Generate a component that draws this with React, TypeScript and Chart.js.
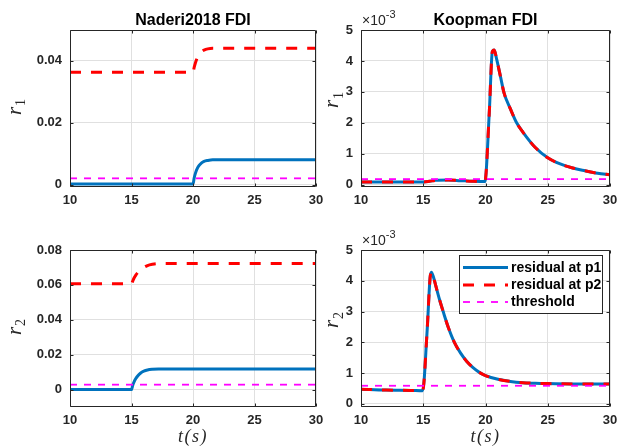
import React, { useEffect, useRef } from 'react';
import { Chart, registerables } from 'chart.js';

Chart.register(...registerables);

const FIG_W = 617;
const FIG_H = 446;
const AXIS_COLOR = '#262626';
const GRID_COLOR = '#e0e0e0';
const BLUE = '#0072BD';
const RED = '#FF0000';
const MAGENTA = '#FF00FF';
const SANS = '"Liberation Sans", Arial, Helvetica, sans-serif';
const SERIF = '"Liberation Serif", "Times New Roman", serif';

// ---------- shared ----------
const seriesLabels = ['residual at p1', 'residual at p2', 'threshold'];
const timeTicks = [10, 15, 20, 25, 30];
const timeTickLabels = ['10', '15', '20', '25', '30'];
const thresholdTime = [10, 30];

// ---------- Naderi2018 FDI, r1 ----------
const naderiR1Time = [10, 20, 20.1, 20.2, 20.35, 20.5, 20.7, 20.9, 21.2, 21.6, 22, 30];
const naderiR1P1 = [0.0002, 0.0002, 0.0022, 0.0037, 0.0052, 0.0062, 0.007, 0.0075, 0.0078, 0.008, 0.008, 0.008];
const naderiR1P2 = [0.0363, 0.0363, 0.038, 0.0394, 0.041, 0.042, 0.043, 0.0435, 0.0439, 0.0441, 0.0441, 0.0441];
const naderiR1Threshold = [0.002, 0.002];
const naderiR1Ticks = [0, 0.02, 0.04];
const naderiR1TickLabels = ['0', '0.02', '0.04'];

// ---------- Naderi2018 FDI, r2 ----------
const naderiR2Time = [10, 15, 15.1, 15.2, 15.35, 15.5, 15.75, 16, 16.3, 16.7, 17.2, 30];
const naderiR2P1 = [0, 0, 0.0025, 0.0043, 0.0063, 0.0078, 0.0095, 0.0105, 0.0112, 0.0116, 0.0118, 0.0118];
const naderiR2P2 = [0.0606, 0.0606, 0.0622, 0.0638, 0.0656, 0.067, 0.0688, 0.07, 0.0711, 0.0718, 0.0722, 0.0723];
const naderiR2Threshold = [0.0028, 0.0028];
const naderiR2Ticks = [0, 0.02, 0.04, 0.06, 0.08];
const naderiR2TickLabels = ['0', '0.02', '0.04', '0.06', '0.08'];

// ---------- Koopman FDI, r1 (x 10^-3) ----------
const koopmanR1Time = [10, 12, 14, 15, 15.5, 16, 17, 18, 19, 19.95, 20.3, 20.55, 20.7, 20.9, 21.2, 21.5, 22, 22.5, 23, 24, 25, 26, 27, 28, 29, 30];
const koopmanR1P1 = [0.09, 0.09, 0.09, 0.09, 0.11, 0.14, 0.15, 0.13, 0.11, 0.1, 2.3, 4.3, 4.35, 4.05, 3.5, 2.95, 2.45, 2.0, 1.7, 1.2, 0.87, 0.67, 0.54, 0.45, 0.37, 0.32];
const koopmanR1P2 = [0.09, 0.09, 0.09, 0.09, 0.11, 0.14, 0.15, 0.13, 0.11, 0.1, 2.3, 4.3, 4.35, 4.05, 3.5, 2.95, 2.45, 2.0, 1.7, 1.2, 0.87, 0.67, 0.54, 0.45, 0.37, 0.32];
const koopmanR1Threshold = [0.18, 0.18];

// ---------- Koopman FDI, r2 (x 10^-3) ----------
const koopmanR2Time = [10, 12, 14, 14.95, 15.3, 15.55, 15.65, 15.8, 16, 16.3, 16.6, 17, 17.5, 18, 18.5, 19, 19.6, 20, 21, 22, 23, 24, 25, 27, 30];
const koopmanR2P1 = [0.48, 0.45, 0.44, 0.43, 2.3, 4.1, 4.28, 4.15, 3.85, 3.4, 3.0, 2.5, 2.0, 1.65, 1.38, 1.18, 1.0, 0.92, 0.8, 0.73, 0.69, 0.67, 0.66, 0.65, 0.65];
const koopmanR2P2 = [0.48, 0.45, 0.44, 0.43, 2.3, 4.1, 4.28, 4.15, 3.85, 3.4, 3.0, 2.5, 2.0, 1.65, 1.38, 1.18, 1.0, 0.92, 0.8, 0.73, 0.69, 0.67, 0.66, 0.65, 0.65];
const koopmanR2Threshold = [0.59, 0.59];

const koopmanTicks = [0, 1, 2, 3, 4, 5];
const koopmanTickLabels = ['0', '1', '2', '3', '4', '5'];

type Area = { l: number; r: number; t: number; b: number };
type Panel = {
  key: string;
  area: Area;
  yMin: number;
  yMax: number;
  yTicks: number[];
  yTickLabels: string[];
  time: number[];
  p1: number[];
  p2: number[];
  thr: number[];
  title?: string;
  exponent?: boolean;
  ySub: string;
  yLabelX: number;
  yLabelY: number;
  xLabel?: boolean;
  legend?: boolean;
};

const panels: Panel[] = [
  {
    key: 'tl', area: { l: 70, r: 316, t: 30, b: 187 }, yMin: -0.0008, yMax: 0.05,
    yTicks: naderiR1Ticks, yTickLabels: naderiR1TickLabels,
    time: naderiR1Time, p1: naderiR1P1, p2: naderiR1P2, thr: naderiR1Threshold,
    title: 'Naderi2018 FDI', ySub: '1', yLabelX: 20.5, yLabelY: 107,
  },
  {
    key: 'tr', area: { l: 361, r: 610, t: 30, b: 187 }, yMin: -0.075, yMax: 5,
    yTicks: koopmanTicks, yTickLabels: koopmanTickLabels,
    time: koopmanR1Time, p1: koopmanR1P1, p2: koopmanR1P2, thr: koopmanR1Threshold,
    title: 'Koopman FDI', exponent: true, ySub: '1', yLabelX: 338, yLabelY: 100,
  },
  {
    key: 'bl', area: { l: 70, r: 316, t: 250, b: 407 }, yMin: -0.01, yMax: 0.08,
    yTicks: naderiR2Ticks, yTickLabels: naderiR2TickLabels,
    time: naderiR2Time, p1: naderiR2P1, p2: naderiR2P2, thr: naderiR2Threshold,
    ySub: '2', yLabelX: 20.5, yLabelY: 327, xLabel: true,
  },
  {
    key: 'br', area: { l: 361, r: 610, t: 250, b: 407 }, yMin: -0.1, yMax: 5,
    yTicks: koopmanTicks, yTickLabels: koopmanTickLabels,
    time: koopmanR2Time, p1: koopmanR2P1, p2: koopmanR2P2, thr: koopmanR2Threshold,
    exponent: true, ySub: '2', yLabelX: 338, yLabelY: 320, xLabel: true, legend: true,
  },
];

const Y_W = 60;
const X_H = 30;

function makePlugin(panel: Panel) {
  return {
    id: 'matlab_' + panel.key,
    afterDatasetsDraw(chart: any) {
      const { ctx, chartArea, scales } = chart;
      const { left, right, top, bottom } = chartArea;
      const xs = scales.x;
      const ys = scales.y;
      ctx.save();
      ctx.strokeStyle = AXIS_COLOR;
      ctx.lineWidth = 1;
      ctx.setLineDash([]);
      const L = Math.round(left) + 0.5;
      const R = Math.round(right) - 0.5;
      const T = Math.round(top) + 0.5;
      const B = Math.round(bottom) - 0.5;
      ctx.beginPath();
      ctx.rect(L, T, R - L, B - T);
      const tl = 3;
      timeTicks.forEach((v) => {
        const px = Math.round(xs.getPixelForValue(v)) + 0.5;
        ctx.moveTo(px, B);
        ctx.lineTo(px, B - tl);
        ctx.moveTo(px, T);
        ctx.lineTo(px, T + tl);
      });
      panel.yTicks.forEach((v) => {
        const py = Math.round(ys.getPixelForValue(v)) + 0.5;
        ctx.moveTo(L, py);
        ctx.lineTo(L + tl, py);
        ctx.moveTo(R, py);
        ctx.lineTo(R - tl, py);
      });
      ctx.stroke();

      if (panel.legend) {
        const bx0 = 459.5, bx1 = 602.5, by0 = 255.5, by1 = 313.5;
        ctx.fillStyle = '#ffffff';
        ctx.fillRect(bx0, by0, bx1 - bx0, by1 - by0);
        ctx.strokeStyle = AXIS_COLOR;
        ctx.lineWidth = 1;
        ctx.strokeRect(bx0, by0, bx1 - bx0, by1 - by0);
        const rows = [267.5, 285, 302];
        chart.data.datasets.forEach((ds: any, i: number) => {
          const y = rows[i];
          ctx.save();
          ctx.strokeStyle = ds.borderColor;
          ctx.lineWidth = ds.borderWidth;
          ctx.setLineDash(ds.borderDash || []);
          ctx.beginPath();
          ctx.moveTo(463, y);
          ctx.lineTo(508, y);
          ctx.stroke();
          ctx.restore();
          ctx.fillStyle = '#000000';
          ctx.font = `bold 14px ${SANS}`;
          ctx.textAlign = 'left';
          ctx.textBaseline = 'middle';
          ctx.fillText(ds.label, 511, y + 0.5);
        });
      }
      ctx.restore();
    },
    afterDraw(chart: any) {
      const { ctx, chartArea } = chart;
      const { left, right, top } = chartArea;
      const cx = (left + right) / 2;
      ctx.save();
      ctx.fillStyle = '#000000';
      if (panel.title) {
        ctx.font = `bold 16px ${SANS}`;
        ctx.textAlign = 'center';
        ctx.textBaseline = 'alphabetic';
        ctx.fillText(panel.title, cx, 25);
      }
      if (panel.exponent) {
        ctx.fillStyle = AXIS_COLOR;
        ctx.textAlign = 'left';
        ctx.textBaseline = 'alphabetic';
        ctx.font = `14px ${SANS}`;
        const base = '\u00d710';
        ctx.fillText(base, left + 1, top - 5);
        const w = ctx.measureText(base).width;
        ctx.font = `11px ${SANS}`;
        ctx.fillText('-3', left + 1 + w, top - 12);
      }
      // y label r_k
      ctx.fillStyle = AXIS_COLOR;
      ctx.save();
      ctx.translate(panel.yLabelX, panel.yLabelY);
      ctx.rotate(-Math.PI / 2);
      ctx.textBaseline = 'alphabetic';
      ctx.textAlign = 'left';
      ctx.font = `italic 21px ${SERIF}`;
      const rw = ctx.measureText('r').width;
      ctx.font = `14px ${SERIF}`;
      const sw = ctx.measureText(panel.ySub).width;
      const x0 = -(rw + sw + 1) / 2;
      ctx.font = `italic 21px ${SERIF}`;
      ctx.fillText('r', x0, 0);
      ctx.font = `14px ${SERIF}`;
      ctx.fillText(panel.ySub, x0 + rw + 1, 4.5);
      ctx.restore();
      if (panel.xLabel) {
        ctx.font = `italic 18px ${SERIF}`;
        (ctx as any).letterSpacing = '1.5px';
        ctx.textAlign = 'center';
        ctx.textBaseline = 'alphabetic';
        ctx.fillText('t(s)', cx, 442);
        (ctx as any).letterSpacing = '0px';
      }
      ctx.restore();
    },
  };
}

function makeConfig(panel: Panel): any {
  const a = panel.area;
  const pts = (vals: number[], times: number[]) => times.map((t, i) => ({ x: t, y: vals[i] }));
  return {
    type: 'line',
    data: {
      datasets: [
        {
          label: seriesLabels[0], data: pts(panel.p1, panel.time), borderColor: BLUE, borderWidth: 3,
          borderDash: [], pointRadius: 0, fill: false, cubicInterpolationMode: 'monotone', order: 3,
          borderJoinStyle: 'round',
        },
        {
          label: seriesLabels[1], data: pts(panel.p2, panel.time), borderColor: RED, borderWidth: 3,
          borderDash: [11, 10], pointRadius: 0, fill: false, cubicInterpolationMode: 'monotone', order: 2,
        },
        {
          label: seriesLabels[2], data: pts(panel.thr, thresholdTime), borderColor: MAGENTA, borderWidth: 1.8,
          borderDash: [7, 7], pointRadius: 0, fill: false, order: 1,
        },
      ],
    },
    options: {
      responsive: false,
      maintainAspectRatio: false,
      devicePixelRatio: 1,
      animation: false,
      events: [],
      layout: {
        padding: { left: a.l - Y_W, right: FIG_W - a.r, top: a.t, bottom: FIG_H - a.b - X_H },
      },
      plugins: { legend: { display: false }, title: { display: false }, tooltip: { enabled: false } },
      scales: {
        x: {
          type: 'linear', min: 10, max: 30,
          afterBuildTicks: (s: any) => { s.ticks = timeTicks.map((v) => ({ value: v })); },
          afterFit: (s: any) => { s.height = X_H; s.paddingLeft = 0; s.paddingRight = 0; },
          grid: { color: GRID_COLOR, lineWidth: 1, drawTicks: false },
          border: { display: false },
          ticks: {
            font: { family: SANS, size: 13, weight: 'bold' }, color: AXIS_COLOR, padding: 6,
            maxRotation: 0, autoSkip: false,
            callback: (v: number) => timeTickLabels[timeTicks.indexOf(v)] ?? '',
          },
        },
        y: {
          type: 'linear', min: panel.yMin, max: panel.yMax,
          afterBuildTicks: (s: any) => { s.ticks = panel.yTicks.map((v) => ({ value: v })); },
          afterFit: (s: any) => { s.width = Y_W; s.paddingTop = 0; s.paddingBottom = 0; },
          grid: { color: GRID_COLOR, lineWidth: 1, drawTicks: false },
          border: { display: false },
          ticks: {
            font: { family: SANS, size: 13, weight: 'bold' }, color: AXIS_COLOR, padding: 8,
            autoSkip: false,
            callback: (v: number) => panel.yTickLabels[panel.yTicks.indexOf(v)] ?? '',
          },
        },
      },
    },
    plugins: [makePlugin(panel)],
  };
}

function PanelChart({ panel }: { panel: Panel }) {
  const ref = useRef<HTMLCanvasElement>(null);
  useEffect(() => {
    const canvas = ref.current;
    if (!canvas) return;
    const chart = new Chart(canvas, makeConfig(panel));
    return () => chart.destroy();
  }, [panel]);
  return (
    <canvas
      ref={ref}
      width={FIG_W}
      height={FIG_H}
      style={{ position: 'absolute', left: 0, top: 0, width: FIG_W, height: FIG_H }}
    />
  );
}

export default function App() {
  return (
    <div
      style={{
        position: 'fixed', left: 0, top: 0, width: FIG_W, height: FIG_H,
        background: '#ffffff', overflow: 'hidden',
      }}
    >
      {panels.map((p) => (
        <PanelChart key={p.key} panel={p} />
      ))}
    </div>
  );
}
